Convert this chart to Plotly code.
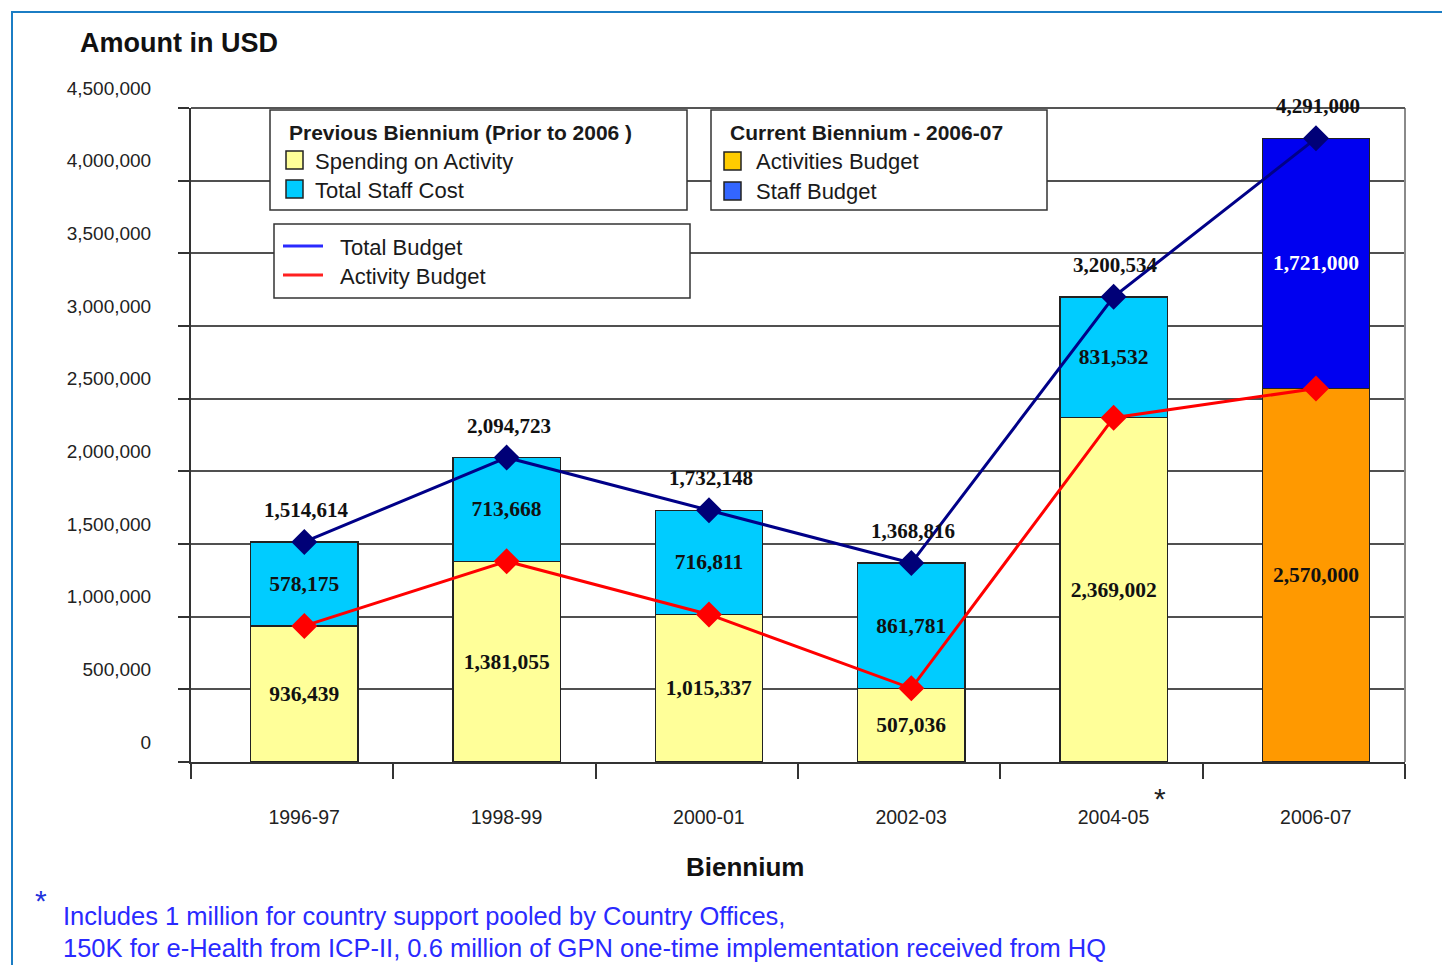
import plotly.graph_objects as go

# ---------------- data ----------------
bienniums = ["1996-97", "1998-99", "2000-01", "2002-03", "2004-05", "2006-07"]
spending_on_activity = [936439, 1381055, 1015337, 507036, 2369002, None]
total_staff_cost = [578175, 713668, 716811, 861781, 831532, None]
activities_budget = [None, None, None, None, None, 2570000]
staff_budget = [None, None, None, None, None, 1721000]
total_budget = [1514614, 2094723, 1732148, 1368816, 3200534, 4291000]
activity_budget = [936439, 1381055, 1015337, 507036, 2369002, 2570000]
y_tick_values = [0, 500000, 1000000, 1500000, 2000000, 2500000, 3000000,
                 3500000, 4000000, 4500000]

# ---------------- layout helpers ----------------
# page body has an 8px margin, so the figure is drawn 8px in from the window
OFF = 8
W, H = 1450 - 2 * OFF, 973 - 2 * OFF
# plot-area edges in window pixels
L, R, T, B = 191, 1405, 108, 762
SHIFT = 0.06          # marks sit slightly right of the category centres
BAR_W = 0.53


def px(x):
    return (x - L) / (R - L)


def py(y):
    return (B - y) / (B - T)


SANS = "Liberation Sans, Arial, sans-serif"
SERIF = "Liberation Serif, Times New Roman, serif"
OUTLINE = dict(color="#222222", width=1.5)
bar_text = dict(family=SERIF, size=21.5, color="#111111")

fig = go.Figure()


def add_bar(vals, name, color, tfont):
    fig.add_trace(go.Bar(
        x=bienniums, y=vals, name=name,
        width=BAR_W, offset=-BAR_W / 2 + SHIFT,
        marker=dict(color=color, line=OUTLINE),
        texttemplate="<b>%{y:,.0f}</b>", textposition="inside",
        insidetextanchor="middle", textangle=0, constraintext="none",
        textfont=tfont, hoverinfo="x+y"))


add_bar(spending_on_activity, "Spending on Activity", "#FFFF99", bar_text)
add_bar(total_staff_cost, "Total Staff Cost", "#00CCFF", bar_text)
add_bar(activities_budget, "Activities Budget", "#FF9900", bar_text)
add_bar(staff_budget, "Staff Budget", "#0000F0",
        dict(family=SERIF, size=21.5, color="#FFFFFF"))

fig.add_trace(go.Scatter(
    x=bienniums, y=activity_budget, name="Activity Budget",
    mode="lines+markers", xaxis="x2",
    line=dict(color="#FF0000", width=3),
    marker=dict(symbol="diamond", size=20, color="#FF0000")))
fig.add_trace(go.Scatter(
    x=bienniums, y=total_budget, name="Total Budget",
    mode="lines+markers", xaxis="x2",
    line=dict(color="#000088", width=3),
    marker=dict(symbol="diamond", size=20, color="#000077")))

annotations = []
# total labels above the total-budget markers
for cat, val in zip(bienniums, total_budget):
    annotations.append(dict(
        x=cat, y=val, xref="x2", yref="y", text="<b>%s</b>" % f"{val:,}",
        showarrow=False, yshift=32, xshift=2,
        font=dict(family=SERIF, size=21, color="#111111")))

# titles
annotations.append(dict(x=px(78), y=py(43), xref="paper", yref="paper",
                        text="<b>Amount in USD</b>", showarrow=False,
                        xanchor="left", yanchor="middle",
                        font=dict(family=SANS, size=27, color="#111111")))
annotations.append(dict(x=px(745), y=py(867), xref="paper", yref="paper",
                        text="<b>Biennium</b>", showarrow=False,
                        xanchor="center", yanchor="middle",
                        font=dict(family=SANS, size=26, color="#111111")))

shapes = []
# outer blue frame
shapes.append(dict(type="rect", xref="paper", yref="paper",
                   x0=px(12), x1=px(1520), y0=py(1040), y1=py(12),
                   line=dict(color="#1B7DC4", width=2),
                   fillcolor="rgba(0,0,0,0)", layer="above"))
# right and top border of plot area
shapes.append(dict(type="line", xref="paper", yref="paper",
                   x0=1, x1=1, y0=0, y1=1,
                   line=dict(color="#8a8a8a", width=2), layer="above"))
shapes.append(dict(type="line", xref="paper", yref="paper",
                   x0=0, x1=1, y0=1, y1=1,
                   line=dict(color="#555555", width=2), layer="above"))


def box(x0, x1, y0, y1):
    shapes.append(dict(type="rect", xref="paper", yref="paper",
                       x0=px(x0), x1=px(x1), y0=py(y1), y1=py(y0),
                       line=dict(color="#333333", width=1.5),
                       fillcolor="white", layer="above"))


def swatch(x0, yc, color):
    shapes.append(dict(type="rect", xref="paper", yref="paper",
                       x0=px(x0), x1=px(x0 + 17), y0=py(yc + 9), y1=py(yc - 9),
                       line=dict(color="#222222", width=1.5),
                       fillcolor=color, layer="above"))


def text(x, y, s, size=22, bold=False, color="#1a1a1a"):
    annotations.append(dict(x=px(x), y=py(y), xref="paper", yref="paper",
                            text=("<b>%s</b>" % s) if bold else s,
                            showarrow=False, xanchor="left", yanchor="middle",
                            font=dict(family=SANS, size=size, color=color)))


box(270, 687, 110, 210)
text(287, 133, "Previous Biennium (Prior to 2006 )", size=21, bold=True)
swatch(286, 160, "#FFFF99")
text(313, 161, "Spending on Activity")
swatch(286, 189, "#00CCFF")
text(313, 190, "Total Staff Cost")

box(711, 1047, 110, 210)
text(728, 133, "Current Biennium - 2006-07", size=21, bold=True)
swatch(724, 161, "#FFCC00")
text(754, 161, "Activities Budget")
swatch(724, 191, "#3366FF")
text(754, 191, "Staff Budget")

box(274, 690, 224, 298)
shapes.append(dict(type="line", xref="paper", yref="paper",
                   x0=px(283), x1=px(323), y0=py(246), y1=py(246),
                   line=dict(color="#2a2aFF", width=3), layer="above"))
shapes.append(dict(type="line", xref="paper", yref="paper",
                   x0=px(283), x1=px(323), y0=py(275), y1=py(275),
                   line=dict(color="#FF2020", width=3), layer="above"))
text(338, 248, "Total Budget")
text(338, 276, "Activity Budget")

# asterisks and footnote
annotations.append(dict(x=px(1160), y=py(798), xref="paper", yref="paper",
                        text="*", showarrow=False, xanchor="center",
                        yanchor="middle",
                        font=dict(family=SANS, size=30, color="#222222")))
annotations.append(dict(x=px(41), y=py(900), xref="paper", yref="paper",
                        text="*", showarrow=False, xanchor="center",
                        yanchor="middle",
                        font=dict(family=SANS, size=30, color="#2233DD")))
text(61, 916, "Includes 1 million for country support pooled by Country Offices,",
     size=25.5, color="#2a2aFF")
text(61, 948, "150K for e-Health from ICP-II, 0.6 million of GPN one-time "
     "implementation received from HQ", size=25.5, color="#2a2aFF")

fig.update_layout(
    width=W, height=H,
    margin=dict(l=L - OFF, r=W - (R - OFF), t=T - OFF, b=H - (B - OFF), pad=0),
    paper_bgcolor="white", plot_bgcolor="white",
    barmode="stack", showlegend=False,
    annotations=annotations, shapes=shapes,
    font=dict(family=SANS, color="#222222"),
    xaxis=dict(
        type="category", categoryorder="array", categoryarray=bienniums,
        range=[-0.5, 5.5],
        showline=True, linecolor="#333333", linewidth=2,
        ticks="outside", ticklen=15, tickwidth=2, tickcolor="#333333",
        tickson="boundaries", ticklabelstandoff=37, ticklabelshift=12,
        tickfont=dict(family=SANS, size=19.5, color="#222222"),
        showgrid=False, zeroline=False,
    ),
    xaxis2=dict(
        type="category", categoryorder="array", categoryarray=bienniums,
        range=[-0.5 - SHIFT, 5.5 - SHIFT], overlaying="x", visible=False,
        showgrid=False, zeroline=False,
    ),
    yaxis=dict(
        range=[0, 4500000], tickvals=y_tick_values, tickformat=",",
        showgrid=True, gridcolor="#505050", gridwidth=2,
        showline=True, linecolor="#333333", linewidth=2,
        ticks="outside", ticklen=11, tickwidth=2, tickcolor="#333333",
        ticklabelshift=-20, ticklabelstandoff=23,
        tickfont=dict(family=SANS, size=19, color="#222222"),
        zeroline=False,
    ),
)

fig.write_html("out.html")
